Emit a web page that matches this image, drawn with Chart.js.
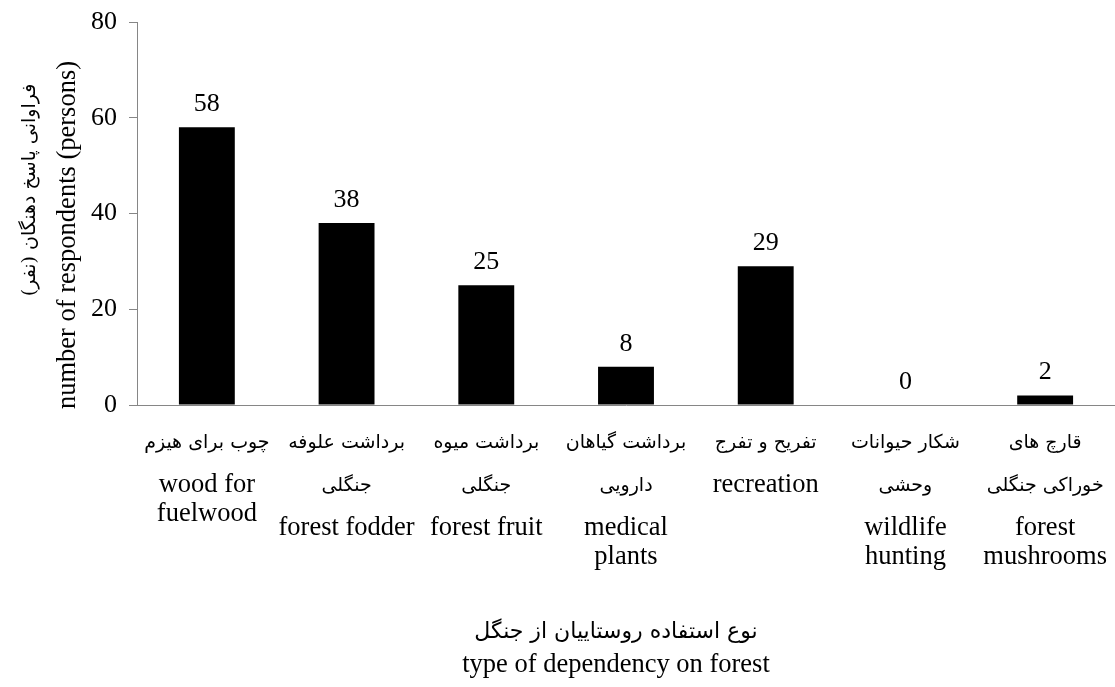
<!DOCTYPE html>
<html lang="en">
<head>
    <meta charset="UTF-8">
    <title>Forest dependency</title>
    <style>
        body { margin: 0; padding: 0; background: #ffffff; }
        #wrap { width: 1115px; height: 687px; }
    </style>
</head>
<body>
    <div id="wrap"><canvas id="depChart" width="1115" height="687"></canvas></div>

    <script src="https://cdn.jsdelivr.net/npm/chart.js"></script>
    <script>
        // data
        const labelsFa = [
            ['چوب برای هیزم'],
            ['برداشت علوفه', 'جنگلی'],
            ['برداشت میوه', 'جنگلی'],
            ['برداشت گیاهان', 'دارویی'],
            ['تفریح و تفرج'],
            ['شکار حیوانات', 'وحشی'],
            ['قارچ های', 'خوراکی جنگلی']
        ];
        const labelsEn = [
            ['wood for', 'fuelwood'],
            ['forest fodder'],
            ['forest fruit'],
            ['medical', 'plants'],
            ['recreation'],
            ['wildlife', 'hunting'],
            ['forest', 'mushrooms']
        ];
        const respondents = [58, 38, 25, 8, 29, 0, 2];
        const yTicks = [0, 20, 40, 60, 80];

        const serif = '"Liberation Serif", "Times New Roman", serif';
        const faFont = '"DejaVu Serif", "DejaVu Sans", serif';
        const axisGray = '#868686';

        // category labels, bar values and axis titles
        const textPlugin = {
            id: 'textPlugin',
            afterDatasetsDraw(chart) {
                const ctx = chart.ctx;
                const xs = chart.scales.x;
                const area = chart.chartArea;
                ctx.save();
                ctx.fillStyle = '#000';
                ctx.textAlign = 'center';
                ctx.textBaseline = 'middle';

                // values above bars
                ctx.font = '26px ' + serif;
                chart.getDatasetMeta(0).data.forEach((bar, i) => {
                    ctx.fillText(String(respondents[i]), bar.x, bar.y - 23);
                });

                // category labels
                labelsFa.forEach((fa, i) => {
                    const x = xs.getPixelForValue(i);
                    let y = area.bottom + 38;
                    ctx.font = '19px ' + faFont;
                    fa.forEach(line => {
                        ctx.direction = 'rtl';
                        ctx.fillText(line, x, y);
                        y += 43;
                    });
                    ctx.direction = 'ltr';
                    ctx.font = '26.5px ' + serif;
                    y -= 1;
                    labelsEn[i].forEach(line => {
                        ctx.fillText(line, x, y);
                        y += 29;
                    });
                });

                // x title
                const cx = (area.left + area.right) / 2 - 10;
                ctx.font = '22px ' + faFont;
                ctx.direction = 'rtl';
                ctx.fillText('نوع استفاده روستاییان از جنگل', cx, 632);
                ctx.direction = 'ltr';
                ctx.font = '26.5px ' + serif;
                ctx.fillText('type of dependency on forest', cx, 665);

                // y title
                ctx.save();
                ctx.translate(30, 190);
                ctx.rotate(-Math.PI / 2);
                ctx.font = '19px ' + faFont;
                ctx.direction = 'rtl';
                ctx.fillText('فراوانی پاسخ دهنگان (نفر)', 0, 0);
                ctx.restore();
                ctx.save();
                ctx.translate(68, 235);
                ctx.rotate(-Math.PI / 2);
                ctx.font = '26.5px ' + serif;
                ctx.direction = 'ltr';
                ctx.fillText('number of respondents (persons)', 0, 0);
                ctx.restore();

                ctx.restore();
            }
        };

        const ctxDep = document.getElementById('depChart').getContext('2d');
        const depChart = new Chart(ctxDep, {
            type: 'bar',
            data: {
                labels: labelsEn.map(l => l.join(' ')),
                datasets: [{
                    data: respondents,
                    backgroundColor: '#000000',
                    borderWidth: 0,
                    categoryPercentage: 1.0,
                    barPercentage: 0.4
                }]
            },
            options: {
                responsive: false,
                animation: false,
                layout: {
                    padding: { top: 22, right: 0, bottom: 274, left: 0 }
                },
                plugins: {
                    legend: { display: false },
                    tooltip: { enabled: false }
                },
                scales: {
                    x: {
                        grid: { display: false },
                        border: { display: true, color: axisGray, width: 1 },
                        ticks: { display: false }
                    },
                    y: {
                        min: 0,
                        max: 80,
                        afterFit(scale) {
                            scale.width = 137;
                            scale.paddingTop = 0;
                            scale.paddingBottom = 0;
                        },
                        afterBuildTicks(scale) {
                            scale.ticks = yTicks.map(v => ({ value: v }));
                        },
                        grid: {
                            drawOnChartArea: false,
                            drawTicks: true,
                            tickLength: 8,
                            color: axisGray
                        },
                        border: { display: true, color: axisGray, width: 1 },
                        ticks: {
                            padding: 12,
                            color: '#000',
                            font: { family: serif, size: 26 }
                        }
                    }
                }
            },
            plugins: [textPlugin]
        });
    </script>
</body>
</html>
